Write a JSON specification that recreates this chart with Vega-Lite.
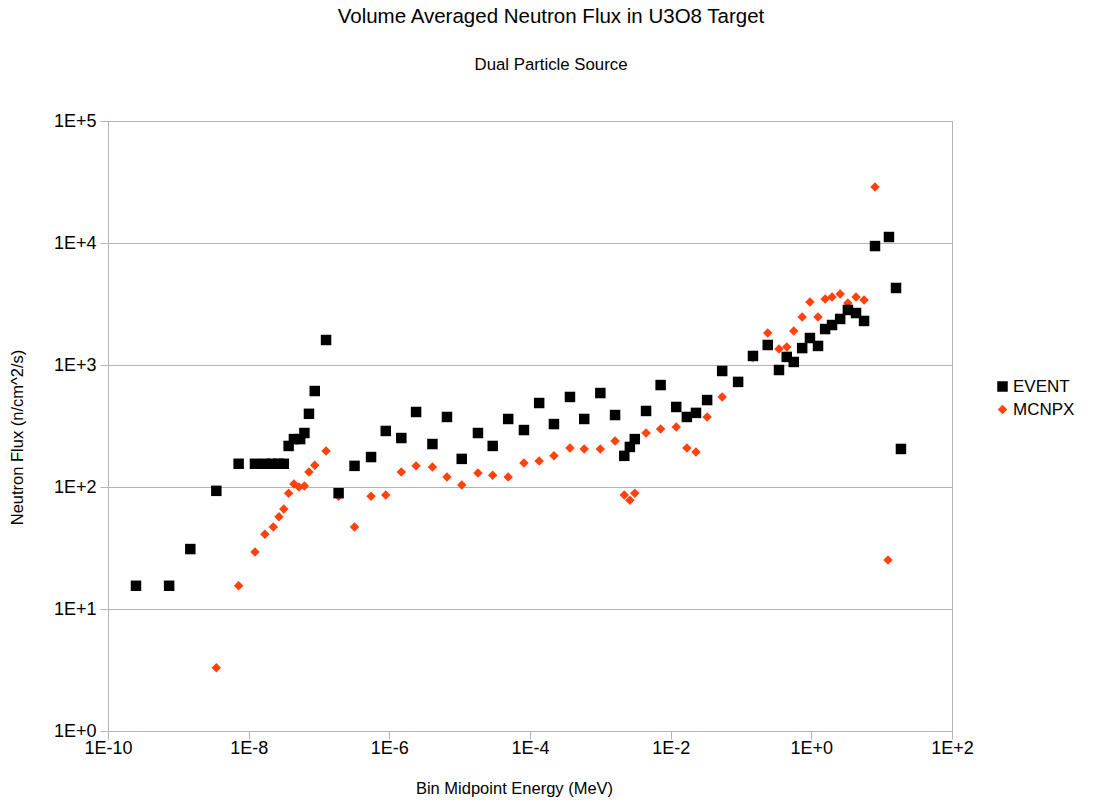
{
  "$schema": "https://vega.github.io/schema/vega-lite/v6.json",
  "width": 844,
  "height": 610,
  "autosize": {"type": "none"},
  "padding": {"left": 108, "top": 121, "right": 150, "bottom": 71},
  "background": "white",
  "title": {
    "text": "Volume Averaged Neutron Flux in U3O8 Target",
    "subtitle": "Dual Particle Source",
    "anchor": "middle",
    "frame": "group",
    "dx": 21,
    "offset": 38,
    "font": "Liberation Sans",
    "fontSize": 20.5,
    "fontWeight": "normal",
    "color": "#000000",
    "subtitleFont": "Liberation Sans",
    "subtitleFontSize": 16.8,
    "subtitleColor": "#000000",
    "subtitlePadding": 30
  },
  "config": {
    "view": {"stroke": "#b3b3b3", "strokeWidth": 1},
    "axis": {
      "labelFont": "Liberation Sans",
      "titleFont": "Liberation Sans",
      "labelFontSize": 18,
      "titleFontSize": 16.5,
      "titleFontWeight": "normal",
      "labelColor": "#000000",
      "titleColor": "#000000",
      "domainColor": "#b3b3b3",
      "tickColor": "#b3b3b3",
      "gridColor": "#b3b3b3",
      "tickSize": 8
    },
    "legend": {
      "labelFont": "Liberation Sans",
      "labelFontSize": 17,
      "labelColor": "#000000"
    }
  },
  "data": {
    "values": [
      {"series": "MCNPX", "energy": 3.47e-9, "flux": 3.3},
      {"series": "MCNPX", "energy": 7.2e-9, "flux": 15.5},
      {"series": "MCNPX", "energy": 1.23e-8, "flux": 29.3},
      {"series": "MCNPX", "energy": 1.7e-8, "flux": 41},
      {"series": "MCNPX", "energy": 2.24e-8, "flux": 47},
      {"series": "MCNPX", "energy": 2.7e-8, "flux": 57},
      {"series": "MCNPX", "energy": 3.16e-8, "flux": 66},
      {"series": "MCNPX", "energy": 3.7e-8, "flux": 89},
      {"series": "MCNPX", "energy": 4.4e-8, "flux": 106},
      {"series": "MCNPX", "energy": 5.2e-8, "flux": 100},
      {"series": "MCNPX", "energy": 6.2e-8, "flux": 102},
      {"series": "MCNPX", "energy": 7.2e-8, "flux": 133},
      {"series": "MCNPX", "energy": 8.7e-8, "flux": 151},
      {"series": "MCNPX", "energy": 1.26e-7, "flux": 197},
      {"series": "MCNPX", "energy": 1.9e-7, "flux": 84},
      {"series": "MCNPX", "energy": 3.2e-7, "flux": 47},
      {"series": "MCNPX", "energy": 5.5e-7, "flux": 84},
      {"series": "MCNPX", "energy": 8.9e-7, "flux": 86},
      {"series": "MCNPX", "energy": 1.48e-6, "flux": 133},
      {"series": "MCNPX", "energy": 2.4e-6, "flux": 149},
      {"series": "MCNPX", "energy": 4.1e-6, "flux": 146},
      {"series": "MCNPX", "energy": 6.6e-6, "flux": 121},
      {"series": "MCNPX", "energy": 1.07e-5, "flux": 104},
      {"series": "MCNPX", "energy": 1.82e-5, "flux": 130},
      {"series": "MCNPX", "energy": 2.95e-5, "flux": 125},
      {"series": "MCNPX", "energy": 4.9e-5, "flux": 121},
      {"series": "MCNPX", "energy": 8.2e-5, "flux": 157},
      {"series": "MCNPX", "energy": 1.35e-4, "flux": 163},
      {"series": "MCNPX", "energy": 2.19e-4, "flux": 180},
      {"series": "MCNPX", "energy": 3.7e-4, "flux": 209},
      {"series": "MCNPX", "energy": 5.9e-4, "flux": 205},
      {"series": "MCNPX", "energy": 1.0e-3, "flux": 205},
      {"series": "MCNPX", "energy": 1.62e-3, "flux": 238},
      {"series": "MCNPX", "energy": 2.19e-3, "flux": 86},
      {"series": "MCNPX", "energy": 2.63e-3, "flux": 78},
      {"series": "MCNPX", "energy": 3.09e-3, "flux": 89},
      {"series": "MCNPX", "energy": 4.47e-3, "flux": 277},
      {"series": "MCNPX", "energy": 7.2e-3, "flux": 299},
      {"series": "MCNPX", "energy": 1.2e-2, "flux": 310},
      {"series": "MCNPX", "energy": 1.7e-2, "flux": 209},
      {"series": "MCNPX", "energy": 2.29e-2, "flux": 194},
      {"series": "MCNPX", "energy": 3.3e-2, "flux": 375},
      {"series": "MCNPX", "energy": 5.4e-2, "flux": 547},
      {"series": "MCNPX", "energy": 0.148, "flux": 1150},
      {"series": "MCNPX", "energy": 0.24, "flux": 1829},
      {"series": "MCNPX", "energy": 0.347, "flux": 1352},
      {"series": "MCNPX", "energy": 0.447, "flux": 1406},
      {"series": "MCNPX", "energy": 0.562, "flux": 1900},
      {"series": "MCNPX", "energy": 0.741, "flux": 2472},
      {"series": "MCNPX", "energy": 0.955, "flux": 3281},
      {"series": "MCNPX", "energy": 1.245, "flux": 2472},
      {"series": "MCNPX", "energy": 1.57, "flux": 3476},
      {"series": "MCNPX", "energy": 1.97, "flux": 3604},
      {"series": "MCNPX", "energy": 2.57, "flux": 3820},
      {"series": "MCNPX", "energy": 3.31, "flux": 3221},
      {"series": "MCNPX", "energy": 4.32, "flux": 3604},
      {"series": "MCNPX", "energy": 5.62, "flux": 3412},
      {"series": "MCNPX", "energy": 8.04, "flux": 28800},
      {"series": "MCNPX", "energy": 12.3, "flux": 25.2},
      {"series": "EVENT", "energy": 2.5e-10, "flux": 15.5},
      {"series": "EVENT", "energy": 7.4e-10, "flux": 15.5},
      {"series": "EVENT", "energy": 1.48e-9, "flux": 31},
      {"series": "EVENT", "energy": 3.47e-9, "flux": 93},
      {"series": "EVENT", "energy": 7.2e-9, "flux": 155},
      {"series": "EVENT", "energy": 1.23e-8, "flux": 155},
      {"series": "EVENT", "energy": 1.7e-8, "flux": 155},
      {"series": "EVENT", "energy": 2.14e-8, "flux": 155},
      {"series": "EVENT", "energy": 2.63e-8, "flux": 155},
      {"series": "EVENT", "energy": 3.16e-8, "flux": 155},
      {"series": "EVENT", "energy": 3.7e-8, "flux": 217},
      {"series": "EVENT", "energy": 4.4e-8, "flux": 247},
      {"series": "EVENT", "energy": 5.4e-8, "flux": 247},
      {"series": "EVENT", "energy": 6.2e-8, "flux": 277},
      {"series": "EVENT", "energy": 7.2e-8, "flux": 398},
      {"series": "EVENT", "energy": 8.7e-8, "flux": 612},
      {"series": "EVENT", "energy": 1.26e-7, "flux": 1603},
      {"series": "EVENT", "energy": 1.9e-7, "flux": 89},
      {"series": "EVENT", "energy": 3.2e-7, "flux": 149},
      {"series": "EVENT", "energy": 5.5e-7, "flux": 176},
      {"series": "EVENT", "energy": 8.9e-7, "flux": 288},
      {"series": "EVENT", "energy": 1.48e-6, "flux": 252},
      {"series": "EVENT", "energy": 2.4e-6, "flux": 412},
      {"series": "EVENT", "energy": 4.1e-6, "flux": 225},
      {"series": "EVENT", "energy": 6.6e-6, "flux": 375},
      {"series": "EVENT", "energy": 1.07e-5, "flux": 170},
      {"series": "EVENT", "energy": 1.82e-5, "flux": 277},
      {"series": "EVENT", "energy": 2.95e-5, "flux": 217},
      {"series": "EVENT", "energy": 4.9e-5, "flux": 361},
      {"series": "EVENT", "energy": 8.2e-5, "flux": 293},
      {"series": "EVENT", "energy": 1.35e-4, "flux": 488},
      {"series": "EVENT", "energy": 2.19e-4, "flux": 328},
      {"series": "EVENT", "energy": 3.7e-4, "flux": 547},
      {"series": "EVENT", "energy": 5.9e-4, "flux": 361},
      {"series": "EVENT", "energy": 1.0e-3, "flux": 589},
      {"series": "EVENT", "energy": 1.62e-3, "flux": 389},
      {"series": "EVENT", "energy": 2.19e-3, "flux": 180},
      {"series": "EVENT", "energy": 2.63e-3, "flux": 213},
      {"series": "EVENT", "energy": 3.09e-3, "flux": 247},
      {"series": "EVENT", "energy": 4.47e-3, "flux": 420},
      {"series": "EVENT", "energy": 7.2e-3, "flux": 685},
      {"series": "EVENT", "energy": 1.2e-2, "flux": 453},
      {"series": "EVENT", "energy": 1.7e-2, "flux": 375},
      {"series": "EVENT", "energy": 2.29e-2, "flux": 405},
      {"series": "EVENT", "energy": 3.3e-2, "flux": 516},
      {"series": "EVENT", "energy": 5.4e-2, "flux": 893},
      {"series": "EVENT", "energy": 9.1e-2, "flux": 727},
      {"series": "EVENT", "energy": 0.148, "flux": 1186},
      {"series": "EVENT", "energy": 0.24, "flux": 1459},
      {"series": "EVENT", "energy": 0.347, "flux": 910},
      {"series": "EVENT", "energy": 0.447, "flux": 1165},
      {"series": "EVENT", "energy": 0.562, "flux": 1059},
      {"series": "EVENT", "energy": 0.741, "flux": 1376},
      {"series": "EVENT", "energy": 0.955, "flux": 1664},
      {"series": "EVENT", "energy": 1.245, "flux": 1433},
      {"series": "EVENT", "energy": 1.57, "flux": 1971},
      {"series": "EVENT", "energy": 1.97, "flux": 2127},
      {"series": "EVENT", "energy": 2.57, "flux": 2385},
      {"series": "EVENT", "energy": 3.31, "flux": 2826},
      {"series": "EVENT", "energy": 4.32, "flux": 2666},
      {"series": "EVENT", "energy": 5.62, "flux": 2296},
      {"series": "EVENT", "energy": 8.04, "flux": 9440},
      {"series": "EVENT", "energy": 12.7, "flux": 11200},
      {"series": "EVENT", "energy": 16.0, "flux": 4280},
      {"series": "EVENT", "energy": 18.8, "flux": 205}
    ]
  },
  "mark": {"type": "point", "filled": true, "opacity": 1},
  "encoding": {
    "x": {
      "field": "energy",
      "type": "quantitative",
      "scale": {"type": "log", "domain": [1e-10, 100], "nice": false},
      "axis": {
        "title": "Bin Midpoint Energy (MeV)",
        "values": [1e-10, 1e-8, 1e-6, 1e-4, 1e-2, 1, 100],
        "labelExpr": "'1E' + (round(log(datum.value)/LN10) >= 0 ? '+' : '') + round(log(datum.value)/LN10)",
        "grid": false,
        "labelPadding": 0,
        "titlePadding": 23,
        "titleX": 406,
        "labelFlush": false
      }
    },
    "y": {
      "field": "flux",
      "type": "quantitative",
      "scale": {"type": "log", "domain": [1, 100000], "nice": false},
      "axis": {
        "title": "Neutron Flux (n/cm^2/s)",
        "values": [1, 10, 100, 1000, 10000, 100000],
        "labelExpr": "'1E+' + round(log(datum.value)/LN10)",
        "grid": true,
        "labelPadding": 4,
        "titlePadding": 28,
        "titleY": 316,
        "labelFlush": false
      }
    },
    "color": {
      "field": "series",
      "type": "nominal",
      "scale": {"domain": ["EVENT", "MCNPX"], "range": ["#000000", "#ff420e"]},
      "legend": {
        "title": null,
        "orient": "none",
        "legendX": 886,
        "legendY": 257,
        "symbolSize": 100,
        "labelOffset": 2,
        "rowPadding": 5
      }
    },
    "shape": {
      "field": "series",
      "type": "nominal",
      "scale": {"domain": ["EVENT", "MCNPX"], "range": ["square", "diamond"]}
    },
    "size": {
      "field": "series",
      "type": "nominal",
      "scale": {"domain": ["EVENT", "MCNPX"], "range": [110, 90]},
      "legend": null
    }
  }
}
